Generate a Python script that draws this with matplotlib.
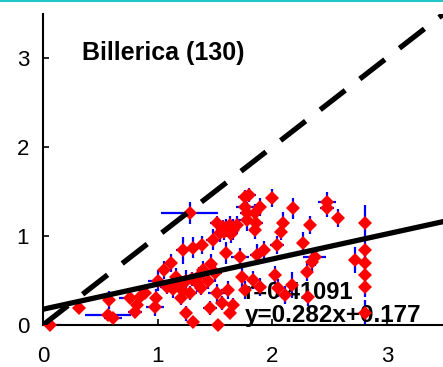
import matplotlib
matplotlib.use("Agg")
import matplotlib.pyplot as plt
from matplotlib.lines import Line2D

title = "Billerica (130)"
x = [0.06, 0.31, 0.57, 0.58, 0.61, 0.76, 0.82, 0.85, 0.80, 0.89, 0.98, 0.99, 1.00, 1.08,
     1.28, 1.22, 1.31, 1.39, 1.48, 1.54, 1.60, 1.66, 1.52, 1.63, 1.57, 1.60, 1.72, 1.78, 1.76,
     1.13, 1.18, 1.22, 1.25, 1.30, 1.34, 1.38, 1.16, 1.28, 1.36, 1.20,
     1.25, 1.31, 1.46, 1.53, 1.56, 1.61, 1.66, 1.63, 1.52,
     1.80, 2.00, 1.89, 1.76, 1.86, 1.85, 2.09, 2.08, 2.04, 2.18, 2.33, 2.27, 2.48, 2.48, 2.57,
     2.81, 2.72, 2.81, 2.81, 2.81, 2.81, 2.81, 2.37, 2.35, 2.30, 2.17, 2.05, 2.11, 2.31,
     1.89, 1.83, 1.74, 1.76, 1.87, 1.93, 2.02, 1.78, 1.85,
     1.40, 1.47, 1.50, 1.06, 1.12, 1.58, 1.64, 1.69, 1.44]
y = [0.00, 0.19, 0.11, 0.28, 0.08, 0.30, 0.22, 0.31, 0.15, 0.36, 0.20, 0.30, 0.50, 0.43,
     1.26, 0.84, 0.87, 0.90, 0.96, 1.03, 1.09, 1.07, 1.15, 1.12, 1.10, 0.81, 0.76, 1.26, 1.44,
     0.40, 0.45, 0.38, 0.50, 0.52, 0.47, 0.42, 0.54, 0.36, 0.55, 0.30,
     0.13, 0.03, 0.19, 0.00, 0.25, 0.39, 0.22, 0.13, 0.36,
     1.46, 1.43, 1.33, 1.33, 1.15, 1.07, 1.15, 1.05, 0.90, 1.31, 1.12, 0.92, 1.38, 1.31, 1.20,
     1.15, 0.73, 0.84, 0.70, 0.56, 0.43, 0.13, 0.76, 0.71, 0.60, 0.45, 0.42, 0.34, 0.31,
     0.43, 0.51, 0.54, 0.39, 0.79, 0.84, 0.56, 1.18, 1.26,
     0.62, 0.68, 0.58, 0.62, 0.70, 1.05, 1.02, 1.12, 0.50]
xerr = [0.10, 0.05, 0.20, 0.05, 0.08, 0.10, 0.05, 0.05, 0.06, 0.05, 0.08, 0.05, 0.08, 0.06,
        0.25, 0.06, 0.06, 0.05, 0.06, 0.05, 0.08, 0.05, 0.06, 0.06, 0.05, 0.05, 0.08, 0.06, 0.06,
        0.05, 0.06, 0.05, 0.08, 0.05, 0.06, 0.05, 0.05, 0.06, 0.05, 0.05,
        0.05, 0.05, 0.06, 0.05, 0.05, 0.06, 0.05, 0.05, 0.08,
        0.06, 0.05, 0.06, 0.08, 0.06, 0.05, 0.05, 0.05, 0.06, 0.05, 0.05, 0.05, 0.08, 0.06, 0.05,
        0.03, 0.05, 0.03, 0.03, 0.03, 0.03, 0.03, 0.10, 0.05, 0.05, 0.05, 0.05, 0.05, 0.05,
        0.06, 0.05, 0.05, 0.05, 0.06, 0.05, 0.05, 0.10, 0.05,
        0.05, 0.05, 0.06, 0.05, 0.05, 0.05, 0.05, 0.05, 0.05]
yerr = [0.02, 0.06, 0.05, 0.10, 0.05, 0.05, 0.05, 0.08, 0.05, 0.05, 0.10, 0.10, 0.12, 0.08,
        0.12, 0.15, 0.12, 0.10, 0.12, 0.10, 0.10, 0.12, 0.08, 0.10, 0.08, 0.12, 0.10, 0.12, 0.08,
        0.10, 0.08, 0.10, 0.12, 0.08, 0.10, 0.08, 0.10, 0.08, 0.10, 0.08,
        0.08, 0.05, 0.08, 0.05, 0.08, 0.10, 0.08, 0.05, 0.10,
        0.08, 0.10, 0.10, 0.08, 0.12, 0.10, 0.12, 0.10, 0.10, 0.12, 0.10, 0.12, 0.12, 0.10, 0.10,
        0.20, 0.15, 0.12, 0.10, 0.10, 0.12, 0.15, 0.10, 0.10, 0.10, 0.15, 0.10, 0.10, 0.10,
        0.10, 0.10, 0.12, 0.10, 0.12, 0.10, 0.10, 0.12, 0.10,
        0.10, 0.12, 0.10, 0.10, 0.10, 0.10, 0.10, 0.10, 0.10]
slope = 0.282
intercept = 0.177
r_text = "r=0.41091"
fit_text = "y=0.282x+0.177"
xticks = [0, 1, 2, 3]
yticks = [0, 1, 2, 3]

fig = plt.figure(figsize=(4.43, 3.67), dpi=100)
ax = fig.add_axes([43/443, 42/367, 400/443, 311.5/367])
ax.set_xlim(0, 3.49)
ax.set_ylim(0, 3.5)

ax.errorbar(x, y, xerr=xerr, yerr=yerr, fmt='none', ecolor='#0000ff',
            elinewidth=1.6, capsize=0, zorder=2)
ax.plot(x, y, 'D', color='#ff0000', markersize=7, markeredgewidth=0, zorder=3, clip_on=False)

ax.plot([0, 3.5], [0, 3.5], color='black', lw=3.8, ls=(0, (6, 3.5)), zorder=4)
ax.plot([0, 3.5], [intercept, slope*3.5 + intercept], color='black', lw=3.8, zorder=4)

ax.text(0.34, 2.98, title, fontsize=18, fontweight='bold', family='Liberation Sans',
        va='baseline', ha='left')
ax.text(1.76, 0.29, r_text, fontsize=17, fontweight='bold', family='Liberation Sans',
        va='baseline', ha='left', zorder=2.5)
ax.text(1.76, 0.035, fit_text, fontsize=17.5, fontweight='bold', family='Liberation Sans',
        va='baseline', ha='left', zorder=2.5)

ax.set_xticks(xticks)
ax.set_yticks(yticks)
ax.tick_params(direction='in', length=4, width=1.2, labelsize=16)
ax.tick_params(axis='x', pad=15)
ax.tick_params(axis='y', pad=10)
for lab in ax.get_xticklabels() + ax.get_yticklabels():
    lab.set_family('Liberation Sans')
ax.spines['top'].set_visible(False)
ax.spines['right'].set_visible(False)
ax.spines['left'].set_linewidth(1.5)
ax.spines['bottom'].set_linewidth(1.5)

fig.add_artist(Line2D([0, 1], [0.998, 0.998], transform=fig.transFigure,
                      color='#20c8c8', lw=1.5))

fig.savefig("out.png", dpi=100)
